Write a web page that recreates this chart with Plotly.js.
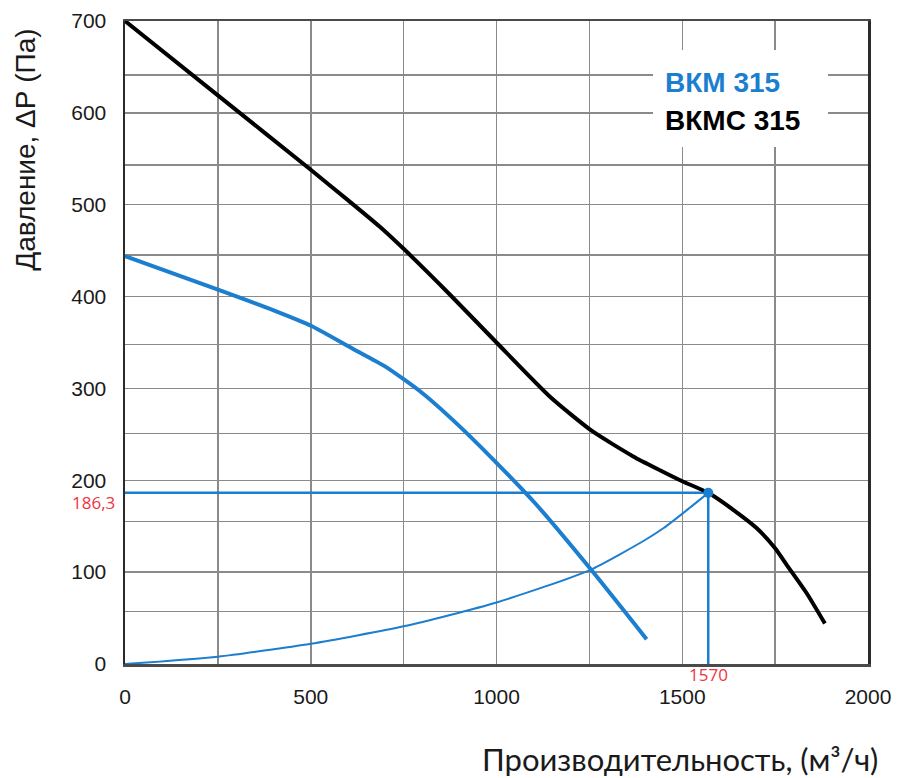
<!DOCTYPE html>
<html>
<head>
<meta charset="utf-8">
<script src="https://cdn.plot.ly/plotly-3.0.1.min.js"></script>
<style>
  html, body { margin: 0; padding: 0; background: #ffffff; }
  #chart { width: 898px; height: 778px; }
</style>
</head>
<body>
<div id="chart"></div>
<script>
// Fan curves: air flow (m³/h) vs. static pressure (Pa)
const bkmcFlow     = [0, 250, 500, 600, 686, 750, 875, 1000, 1144, 1256, 1368, 1440, 1500, 1570, 1640, 1700, 1750, 1781, 1835, 1884];
const bkmcPressure = [700, 619, 538, 505, 476, 452, 402, 350, 291, 254, 226, 211, 199, 186.3, 167, 148, 126, 108, 77, 44];

const bkmFlow     = [0, 254, 400, 502, 614, 700, 800, 900, 1000, 1104, 1256, 1404];
const bkmPressure = [444, 407, 385, 368, 343, 324, 295, 259, 219, 175, 102, 27];

// Duct network (system) curve
const netFlow     = [0, 250, 500, 750, 1000, 1250, 1400, 1450, 1520, 1570];
const netPressure = [0, 8, 22, 41, 67, 102, 135, 148, 170, 186.3];

// Operating point
const opFlow = 1570;
const opPressure = 186.3;
const opFlowLabel = '1570';
const opPressureLabel = '186,3';

// Axis ticks and grid
const xTickVals  = [0, 500, 1000, 1500, 2000];
const xTickText  = ['0', '500', '1000', '1500', '2000'];
const xMinorGrid = [250, 750, 1250, 1750];
const yTickVals  = [0, 100, 200, 300, 400, 500, 600, 700];
const yTickText  = ['0', '100', '200', '300', '400', '500', '600', '700'];
const yMinorGrid = [57, 155, 251, 348, 445, 543, 641];

const seriesNames = ['ВКМ 315', 'ВКМС 315'];
const xTitle = 'Производительность, (м³/ч)';
const yTitle = 'Давление, ΔР (Па)';

const BLUE = '#1c7ecf';
const RED = '#ef3340';
const GRID = '#8a8a8a';

const traces = [
  { x: netFlow, y: netPressure, mode: 'lines', line: { color: BLUE, width: 2, shape: 'spline', smoothing: 0.6 }, hoverinfo: 'skip' },
  { x: [0, opFlow], y: [opPressure, opPressure], mode: 'lines', line: { color: BLUE, width: 2.5 }, hoverinfo: 'skip' },
  { x: [opFlow, opFlow], y: [opPressure, 0], mode: 'lines', line: { color: BLUE, width: 2.5 }, hoverinfo: 'skip' },
  { x: bkmFlow, y: bkmPressure, mode: 'lines', name: seriesNames[0], line: { color: BLUE, width: 4, shape: 'spline', smoothing: 0.6 } },
  { x: bkmcFlow, y: bkmcPressure, mode: 'lines', name: seriesNames[1], line: { color: '#000000', width: 4, shape: 'spline', smoothing: 0.6 } },
  { x: [opFlow], y: [opPressure], mode: 'markers', marker: { color: BLUE, size: 10 }, hoverinfo: 'skip' }
];

const tickFont = { family: 'Liberation Sans, Arial, sans-serif', size: 21, color: '#1a1a1a' };
const redFont = { family: 'Open Sans, sans-serif', size: 17, color: RED };

const layout = {
  width: 898,
  height: 778,
  margin: { l: 125, r: 30, t: 21, b: 114 },
  paper_bgcolor: '#ffffff',
  plot_bgcolor: '#ffffff',
  showlegend: false,
  xaxis: {
    range: [0, 2000],
    tickmode: 'array',
    tickvals: xTickVals,
    ticktext: xTickText,
    ticks: '',
    ticklabelstandoff: 12,
    tickfont: tickFont,
    showgrid: true,
    gridcolor: GRID,
    gridwidth: 1.5,
    minor: { tickmode: 'array', tickvals: xMinorGrid, showgrid: true, gridcolor: GRID, gridwidth: 1.5, ticks: '' },
    zeroline: false,
    showline: true,
    linecolor: '#4a4a4a',
    linewidth: 2.5,
    mirror: true,
    fixedrange: true
  },
  yaxis: {
    range: [0, 700],
    tickmode: 'array',
    tickvals: yTickVals,
    ticktext: yTickText,
    ticks: '',
    ticklabelstandoff: 12,
    tickfont: tickFont,
    showgrid: true,
    gridcolor: GRID,
    gridwidth: 1.5,
    minor: { tickmode: 'array', tickvals: yMinorGrid, showgrid: true, gridcolor: GRID, gridwidth: 1.5, ticks: '' },
    zeroline: false,
    showline: true,
    linecolor: '#2a2a2a',
    linewidth: 2.5,
    mirror: true,
    fixedrange: true
  },
  annotations: [
    // white panel behind the series labels
    { xref: 'paper', yref: 'paper', x: 0.8284, y: 0.8795, xanchor: 'center', yanchor: 'middle',
      text: ' ', showarrow: false, width: 175, height: 97, bgcolor: '#ffffff', borderpad: 0, borderwidth: 0 },
    { xref: 'paper', yref: 'paper', x: 0.7240, y: 0.9036, xanchor: 'left', yanchor: 'middle',
      text: '<b>' + seriesNames[0] + '</b>', showarrow: false,
      font: { family: 'Liberation Sans, Arial, sans-serif', size: 28, color: BLUE } },
    { xref: 'paper', yref: 'paper', x: 0.7240, y: 0.8445, xanchor: 'left', yanchor: 'middle',
      text: '<b>' + seriesNames[1] + '</b>', showarrow: false,
      font: { family: 'Liberation Sans, Arial, sans-serif', size: 28, color: '#000000' } },
    // operating point values
    { xref: 'paper', yref: 'y', x: -0.0108, y: opPressure, xanchor: 'right', yanchor: 'middle', yshift: -10,
      text: opPressureLabel, showarrow: false, font: redFont },
    { xref: 'x', yref: 'paper', x: opFlow, y: -0.0171, xanchor: 'center', yanchor: 'middle',
      text: opFlowLabel, showarrow: false, font: redFont },
    // axis titles
    { xref: 'paper', yref: 'paper', x: 1.0162, y: -0.1477, xanchor: 'right', yanchor: 'middle',
      text: xTitle, showarrow: false,
      font: { family: 'Lato, sans-serif', size: 31, color: '#1a1a1a' } },
    { xref: 'paper', yref: 'paper', x: -0.1335, y: 0.7994, xanchor: 'center', yanchor: 'middle',
      text: yTitle, textangle: -90, showarrow: false,
      font: { family: 'Liberation Sans, Arial, sans-serif', size: 28, color: '#1a1a1a' } }
  ]
};

Plotly.newPlot('chart', traces, layout, { displayModeBar: false, staticPlot: true });
</script>
</body>
</html>
